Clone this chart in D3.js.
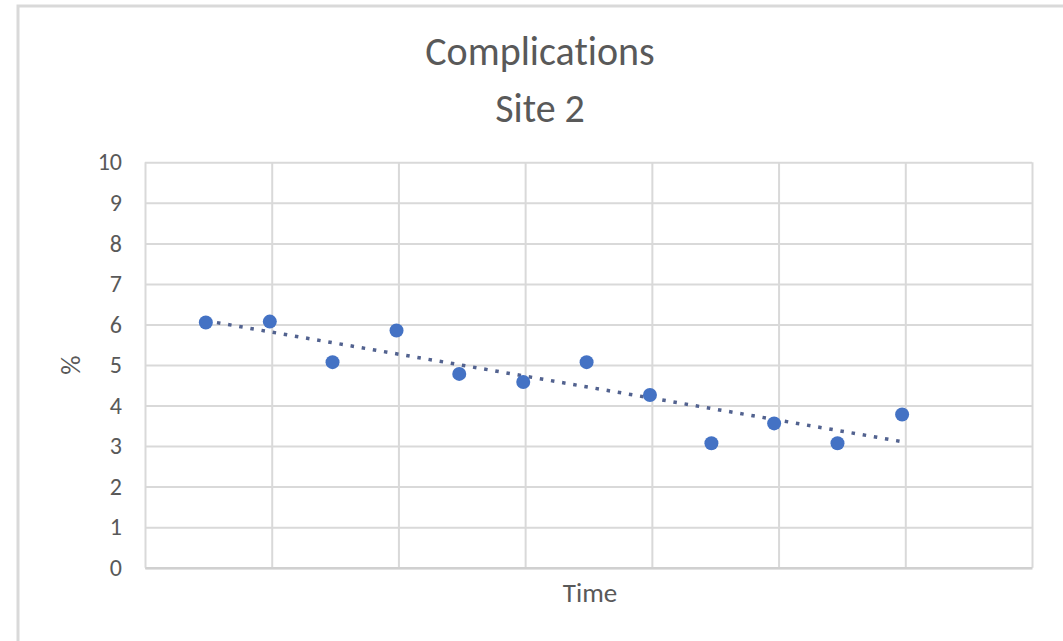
<!DOCTYPE html>
<html>
<head>
<meta charset="utf-8">
<script src="https://cdn.jsdelivr.net/npm/d3@7"></script>
<style>
  html, body { margin: 0; padding: 0; background: #fff; }
  svg { display: block; }
  text { font-family: Carlito, "Liberation Sans Narrow", "DejaVu Sans Condensed", sans-serif; fill: #595959; font-variant-ligatures: none; }
</style>
</head>
<body>
<svg id="chart" width="1063" height="641"></svg>
<script>
const titleLines = ["Complications", "Site 2"];
const xTitle = "Time";
const yTitle = "%";
const timePoints = [0.96, 1.97, 2.96, 3.97, 4.96, 5.97, 6.97, 7.97, 8.94, 9.93, 10.93, 11.95];
const complications = [6.05, 6.07, 5.07, 5.85, 4.78, 4.58, 5.07, 4.26, 3.07, 3.56, 3.07, 3.78];
const yTicks = [0, 1, 2, 3, 4, 5, 6, 7, 8, 9, 10];
const xGridTicks = [0, 2, 4, 6, 8, 10, 12, 14];

const svg = d3.select("#chart");
const W = 1063, H = 641;
const plot = { left: 145, right: 1032, top: 162.3, bottom: 567.7 };
const FONT = 'Carlito, "Liberation Sans Narrow", "DejaVu Sans Condensed", sans-serif';

// chart frame
svg.append("rect").attr("x", 18).attr("y", 6).attr("width", W + 20).attr("height", H + 20)
  .attr("fill", "#fff").attr("stroke", "#d9d9d9").attr("stroke-width", 3);

const x = d3.scaleLinear().domain([0, 14]).range([plot.left, plot.right]);
const y = d3.scaleLinear().domain([0, 10]).range([plot.bottom, plot.top]);

// horizontal gridlines via axis
const yGrid = d3.axisLeft(y).tickValues(yTicks).tickSize(-(plot.right - plot.left)).tickFormat("");
svg.append("g").attr("transform", `translate(${plot.left},0)`).call(yGrid)
  .call(g => g.select(".domain").remove())
  .call(g => g.selectAll("line").attr("stroke", "#d9d9d9").attr("stroke-width", 2));

// vertical gridlines
const xGrid = d3.axisBottom(x).tickValues(xGridTicks).tickSize(-(plot.bottom - plot.top)).tickFormat("");
svg.append("g").attr("transform", `translate(0,${plot.bottom})`).call(xGrid)
  .call(g => g.select(".domain").remove())
  .call(g => g.selectAll("line").attr("stroke", "#d9d9d9").attr("stroke-width", 2));

// bottom axis line
svg.append("g").attr("transform", `translate(0,${plot.bottom})`)
  .call(d3.axisBottom(x).tickValues([]).tickSizeOuter(0))
  .call(g => g.select(".domain").attr("stroke", "#d0d0d0").attr("stroke-width", 2.5));

// y tick labels
const yAxis = d3.axisLeft(y).tickValues(yTicks).tickSize(0).tickPadding(23);
svg.append("g").attr("transform", `translate(${plot.left},0)`).call(yAxis)
  .call(g => g.select(".domain").remove())
  .call(g => g.selectAll("text").style("font-size", "24px").attr("fill", "#595959")
    .style("font-family", FONT));

// trendline (least squares)
const n = timePoints.length;
const mx = d3.mean(timePoints), my = d3.mean(complications);
let sxy = 0, sxx = 0;
for (let i = 0; i < n; i++) { sxy += (timePoints[i] - mx) * (complications[i] - my); sxx += (timePoints[i] - mx) ** 2; }
const slope = sxy / sxx, intercept = my - slope * mx;
const x0 = d3.min(timePoints), x1 = d3.max(timePoints);
svg.append("line")
  .attr("x1", x(x0)).attr("y1", y(intercept + slope * x0))
  .attr("x2", x(x1)).attr("y2", y(intercept + slope * x1))
  .attr("stroke", "#52628f").attr("stroke-width", 3.5).attr("stroke-dasharray", "3.5,7.8");

// points
svg.append("g").selectAll("circle").data(timePoints).join("circle")
  .attr("cx", d => x(d)).attr("cy", (d, i) => y(complications[i]))
  .attr("r", 7).attr("fill", "#4472c4");

// titles
svg.append("text").attr("x", 540).attr("y", 65).attr("text-anchor", "middle")
  .style("font-size", "40px").text(titleLines[0]);
svg.append("text").attr("x", 540).attr("y", 122).attr("text-anchor", "middle")
  .style("font-size", "40px").text(titleLines[1]);

svg.append("text").attr("x", 590).attr("y", 602).attr("text-anchor", "middle")
  .style("font-size", "27px").text(xTitle);

svg.append("text").attr("transform", "translate(80,365) rotate(-90)").attr("text-anchor", "middle")
  .style("font-size", "27px").text(yTitle);
</script>
</body>
</html>
